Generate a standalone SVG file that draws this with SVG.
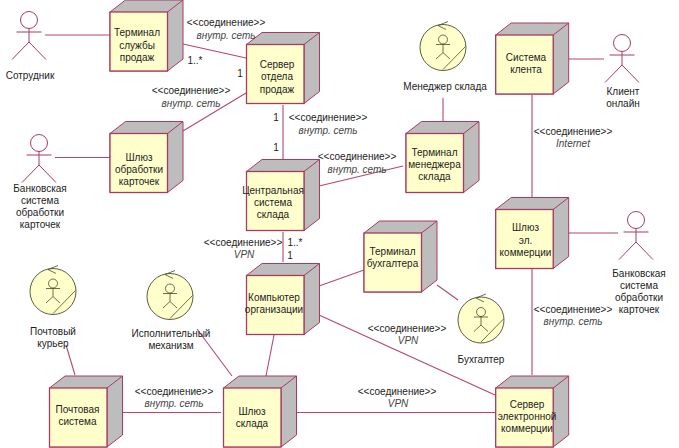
<svg xmlns="http://www.w3.org/2000/svg" width="679" height="448" viewBox="0 0 679 448">
<style>
text{font-family:"Liberation Sans",Arial,sans-serif;font-size:10px;fill:#1c1c1c;text-anchor:middle}
.i{font-style:italic;fill:#444}
.s{fill:#bdbdbd;stroke:#a93a63;stroke-width:1}
.f{fill:#ffffcc;stroke:#a93a63;stroke-width:1.3}
.l{fill:none;stroke:#a93a63;stroke-width:1}
.w{fill:#ffffcc;stroke:#4a4a2c;stroke-width:.9}
.t{fill:none;stroke:#4a4a2c;stroke-width:.8}
#connectors line{stroke:#b5476f;stroke-width:1.1}
</style>
<defs>
<g id="node"><path class="s" d="M0 0L15.500-12H73V47L57.500 59H0Z"/><path class="s" d="M57.500 0L73-12M57.500 0V59"/><rect class="f" width="57.500" height="59"/></g>
<g id="actor"><circle class="l" cx="0" cy="0" r="8.500"/><path class="l" d="M-12.500 12H12.500M0 8.500V22M0 22L-17 39.500M0 22L17 39.500"/></g>
<g id="worker"><circle class="w" r="23"/><path class="t" d="M-5 -22L5 -26M-5 -22L3 -18M22.500 -1L0 22"/><circle class="t" cy="-8" r="4.500"/><path class="t" d="M-7 -3H7M0 -3.500V5M0 5L-7 11.500M0 5L7 11.500"/></g>
</defs>
<g id="connectors">
<line x1="45" y1="35" x2="110" y2="35"/>
<line x1="183" y1="44" x2="246" y2="58"/>
<line x1="183" y1="131" x2="246" y2="93"/>
<line x1="55" y1="157.500" x2="110" y2="157.500"/>
<line x1="283" y1="105" x2="283" y2="159"/>
<line x1="319" y1="186" x2="403" y2="166"/>
<line x1="443" y1="98" x2="443" y2="121"/>
<line x1="532" y1="95" x2="532" y2="197"/>
<line x1="568" y1="59" x2="604" y2="59"/>
<line x1="568" y1="233" x2="618" y2="233"/>
<line x1="532" y1="269" x2="532" y2="375"/>
<line x1="283" y1="232" x2="283" y2="262"/>
<line x1="319" y1="286" x2="364" y2="270"/>
<line x1="319" y1="315" x2="495" y2="395"/>
<line x1="437" y1="285" x2="458" y2="300"/>
<line x1="274" y1="335" x2="266" y2="376"/>
<line x1="197" y1="329" x2="232" y2="376"/>
<line x1="66" y1="345" x2="75" y2="375"/>
<line x1="122" y1="412.500" x2="221" y2="412.500"/>
<line x1="296" y1="412.500" x2="495" y2="412.500"/>
</g>
<g id="n-terminal-sales"><use href="#node" x="110" y="12"/><text x="137" y="36">Терминал</text><text x="137" y="49">службы</text><text x="137" y="61">продаж</text></g>
<g id="n-sales-server"><use href="#node" x="246.500" y="44.500"/><text x="277" y="68">Сервер</text><text x="277" y="80">отдела</text><text x="277" y="93">продаж</text></g>
<g id="n-card-gateway"><use href="#node" x="110" y="133.500"/><text x="139" y="161">Шлюз</text><text x="139" y="173">обработки</text><text x="139" y="185">карточек</text></g>
<g id="n-central"><use href="#node" x="246.500" y="171.500"/><text x="273" y="194">Центральная</text><text x="273" y="206">система</text><text x="273" y="218">склада</text></g>
<g id="n-manager-terminal"><use href="#node" x="406" y="133.500"/><text x="434.500" y="156">Терминал</text><text x="434.500" y="168">менеджера</text><text x="434.500" y="180">склада</text></g>
<g id="n-client-system"><use href="#node" x="495.700" y="35"/><text x="526" y="61">Система</text><text x="526" y="73">клента</text></g>
<g id="n-ecom-gateway"><use href="#node" x="495.700" y="209.500"/><text x="525.500" y="231">Шлюз</text><text x="525.500" y="244">эл.</text><text x="525.500" y="256">коммерции</text></g>
<g id="n-acc-terminal"><use href="#node" x="364" y="233"/><text x="392.500" y="255">Терминал</text><text x="392.500" y="267">бухгалтера</text></g>
<g id="n-computer"><use href="#node" x="246.500" y="275.500"/><text x="274" y="301">Компьютер</text><text x="274" y="313">организации</text></g>
<g id="n-post-system"><use href="#node" x="49.500" y="388"/><text x="77.500" y="413">Почтовая</text><text x="77.500" y="425">система</text></g>
<g id="n-wh-gateway"><use href="#node" x="223.500" y="388"/><text x="252" y="415">Шлюз</text><text x="252" y="427">склада</text></g>
<g id="n-ecom-server"><use href="#node" x="495.700" y="388"/><text x="527" y="408">Сервер</text><text x="527" y="420">электронной</text><text x="527" y="432">коммерции</text></g>
<g id="a-employee"><use href="#actor" x="29" y="20"/><text x="30" y="79">Сотрудник</text></g>
<g id="a-bank1"><use href="#actor" x="39" y="143"/><text x="40" y="192">Банковская</text><text x="40" y="204">система</text><text x="40" y="216">обработки</text><text x="40" y="228">карточек</text></g>
<g id="a-client"><use href="#actor" x="622" y="43"/><text x="623" y="95">Клиент</text><text x="623" y="107">онлайн</text></g>
<g id="a-bank2"><use href="#actor" x="636" y="220"/><text x="639" y="277">Банковская</text><text x="639" y="289">система</text><text x="639" y="301">обработки</text><text x="639" y="313">карточек</text></g>
<g id="w-manager"><use href="#worker" x="443" y="47.500"/><text x="445" y="90">Менеджер склада</text></g>
<g id="w-courier"><use href="#worker" x="53" y="291.500"/><text x="53" y="335">Почтовый</text><text x="53" y="347">курьер</text></g>
<g id="w-mechanism"><use href="#worker" x="170" y="296.500"/><text x="171" y="337">Исполнительный</text><text x="171" y="349">механизм</text></g>
<g id="w-accountant"><use href="#worker" x="481" y="320"/><text x="481" y="363">Бухгалтер</text></g>
<g id="labels">
<text x="226" y="26">&lt;&lt;соединение&gt;&gt;</text><text class="i" x="226" y="39">внутр. сеть</text>
<text x="191" y="94">&lt;&lt;соединение&gt;&gt;</text><text class="i" x="191" y="107">внутр. сеть</text>
<text x="328" y="121">&lt;&lt;соединение&gt;&gt;</text><text class="i" x="328" y="134">внутр. сеть</text>
<text x="357" y="160">&lt;&lt;соединение&gt;&gt;</text><text class="i" x="357" y="173">внутр. сеть</text>
<text x="573" y="135">&lt;&lt;соединение&gt;&gt;</text><text class="i" x="573" y="147">Internet</text>
<text x="243" y="246">&lt;&lt;соединение&gt;&gt;</text><text class="i" x="244" y="258">VPN</text>
<text x="407" y="332">&lt;&lt;соединение&gt;&gt;</text><text class="i" x="408" y="344">VPN</text>
<text x="573" y="313">&lt;&lt;соединение&gt;&gt;</text><text class="i" x="573" y="325">внутр. сеть</text>
<text x="174" y="395">&lt;&lt;соединение&gt;&gt;</text><text class="i" x="174" y="407">внутр. сеть</text>
<text x="397" y="395">&lt;&lt;соединение&gt;&gt;</text><text class="i" x="398" y="407">VPN</text>
<text x="195" y="64">1..*</text><text x="240" y="77">1</text>
<text x="276" y="121">1</text><text x="276" y="151">1</text>
<text x="295" y="246">1..*</text><text x="290" y="259">1</text>
</g>
</svg>
